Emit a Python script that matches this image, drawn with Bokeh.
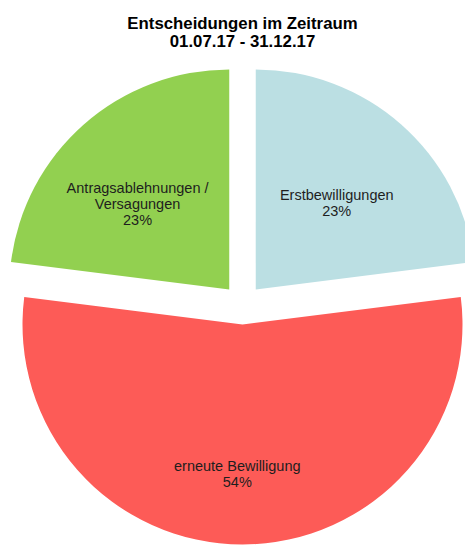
import math
from bokeh.plotting import figure
from bokeh.models import Range1d, ColumnDataSource
from bokeh.core.properties import value
from bokeh.embed import file_html
from bokeh.resources import INLINE

# ---- data ----
categories = ["Erstbewilligungen", "erneute Bewilligung", "Antragsablehnungen /\nVersagungen"]
shares = [23, 54, 23]
colors = ["#BBDFE3", "#FD5B57", "#92D050"]
title_lines = ["Entscheidungen im Zeitraum", "01.07.17 - 31.12.17"]

# ---- layout ----
W, H = 465, 545
def px(x):  # page x -> data x
    return x
def py(y):  # page y -> data y
    return H - y

cx, cy = px(242), py(304)
R = 220
EXPLODE = 20
label_angle = [43, 182, 313]      # clockwise degrees from top
label_dist = [0.54, 0.68, 0.57]   # fraction of radius
FONT = "Liberation Sans"
LINE = 16.0

p = figure(width=W, height=H, x_range=Range1d(0, W), y_range=Range1d(0, H),
           output_backend="svg", toolbar_location=None, min_border=0)
p.axis.visible = False
p.grid.visible = False
p.outline_line_color = None
p.background_fill_color = "white"
p.border_fill_color = "white"

total = float(sum(shares))
xs, ys, st, en = [], [], [], []
cum = 0.0
for v in shares:
    f0 = cum / total
    f1 = (cum + v) / total
    mid = (f0 + f1) / 2 * 2 * math.pi  # clockwise from top
    dx, dy = math.sin(mid) * EXPLODE, math.cos(mid) * EXPLODE
    xs.append(cx + dx)
    ys.append(cy + dy)
    st.append(math.pi / 2 - 2 * math.pi * f0)
    en.append(math.pi / 2 - 2 * math.pi * f1)
    cum += v

src = ColumnDataSource(dict(x=xs, y=ys, start=st, end=en, color=colors))
p.wedge(x="x", y="y", radius=R, start_angle="start", end_angle="end",
        direction="clock", fill_color="color", line_color=None, source=src)

# labels
lx, ly, lt = [], [], []
for i, (cat, v) in enumerate(zip(categories, shares)):
    lines = cat.split("\n") + [f"{v}%"]
    a = math.radians(label_angle[i])
    ax = xs[i] + math.sin(a) * label_dist[i] * R
    ay = ys[i] + math.cos(a) * label_dist[i] * R
    n = len(lines)
    for k, t in enumerate(lines):
        lx.append(ax)
        ly.append(ay + ((n - 1) / 2 - k) * LINE)
        lt.append(t)
p.text(x=lx, y=ly, text=lt, text_align="center", text_baseline="middle",
       text_font=value(FONT), text_font_size="14.5px", text_color="#1E1E1E")

# title
p.text(x=[px(242), px(242)], y=[py(22.7), py(41.3)], text=title_lines,
       text_align="center", text_baseline="alphabetic",
       text_font=value(FONT), text_font_style="bold", text_font_size="16.8px",
       text_color="#000000")

open("out.html", "w").write(file_html(p, INLINE))
